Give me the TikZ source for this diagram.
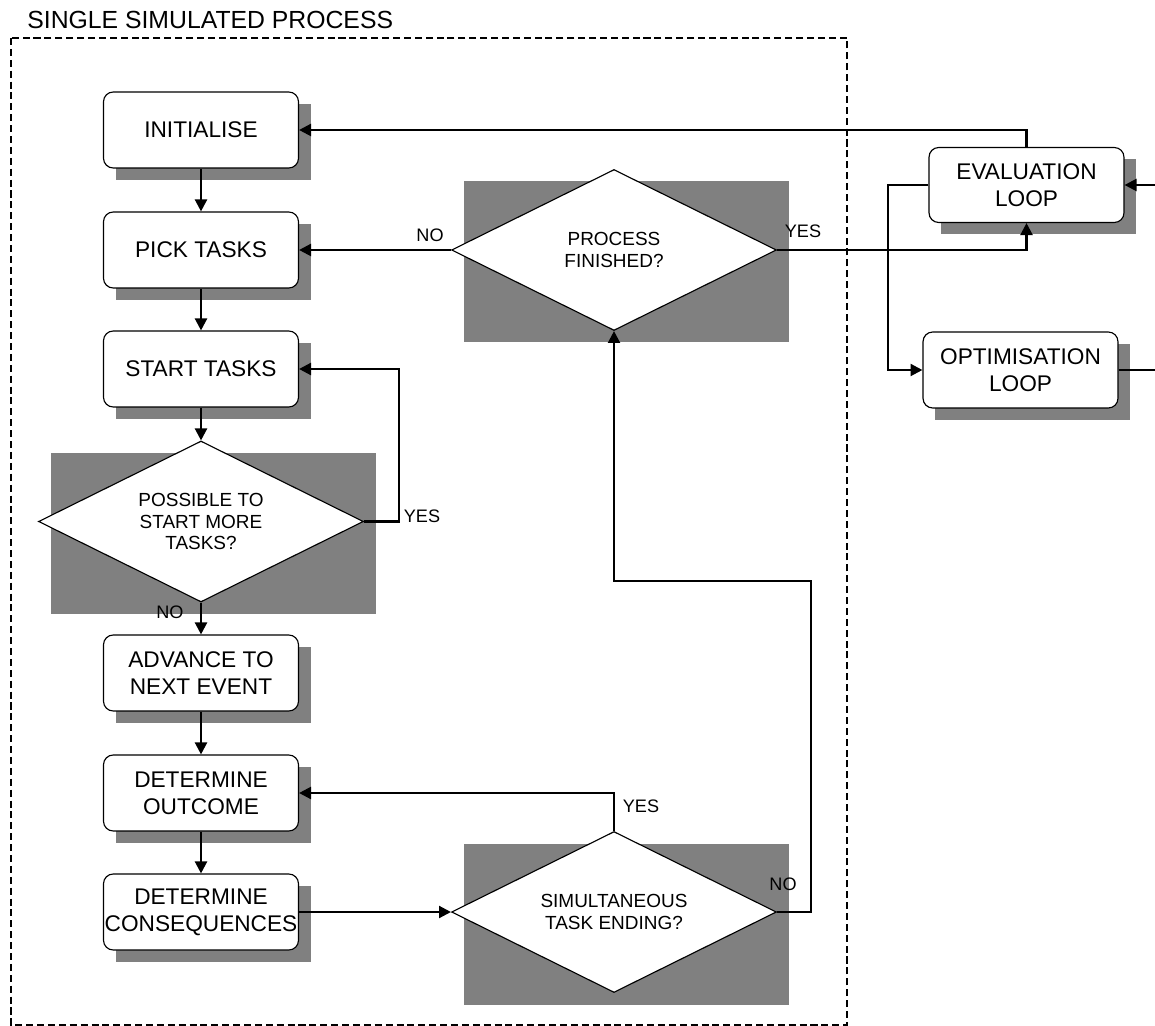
\documentclass[tikz,border=0pt]{standalone}
\usepackage{fontspec}
\setmainfont{Liberation Sans}
\usetikzlibrary{arrows.meta,shapes.geometric}
\colorlet{shadowgray}{black!50}
\def\boxshadow(#1,#2)(#3,#4){\fill[shadowgray] ({#1-#3/2+12},{#2-#4/2+12}) rectangle ({#1+#3/2+12},{#2+#4/2+12});}
\tikzset{
	taskbox/.style={draw, line width=0.65pt, fill=white, rounded corners=5.5pt, minimum width=3.9cm, minimum height=1.52cm, inner sep=0pt, align=center, font=\fontsize{12.9}{15.2}\selectfont},
	testbox/.style={draw, diamond, shape aspect=2, line width=0.65pt, fill=white, minimum width=6.5cm, minimum height=3.22cm, inner sep=0pt, align=center, font=\fontsize{10.8}{12.3}\selectfont},
	answer/.style={inner sep=0pt, font=\fontsize{10.3}{12}\selectfont},
	flow/.style={line width=1.3pt, -{Triangle[length=6.8pt,width=6.8pt]}},
	flowline/.style={line width=1.3pt}
}

\begin{document}
\begin{tikzpicture}[x=0.02cm, y=-0.02cm]
			%%%%% START %%%%%
			\useasboundingbox (0, 0) rectangle (1155, 1026);
			
			\draw[line width=1pt, dash pattern=on 4pt off 2.2pt] (11, 38) rectangle (847, 1025);
			\node[anchor=base west, inner sep=0pt, font=\fontsize{14.1}{16}\selectfont] (title) at (27, 29) {SINGLE SIMULATED PROCESS};
			
			\boxshadow(201, 130)(195, 76)
			\boxshadow(201, 250)(195, 76)
			\boxshadow(201, 369)(195, 76)
			\boxshadow(201, 521.5)(325, 161)
			\boxshadow(201, 673)(195, 76)
			\boxshadow(201, 793)(195, 76)
			\boxshadow(201, 912)(195, 76)
			\boxshadow(614, 250)(325, 161)
			\boxshadow(614, 912)(325, 161)
			\boxshadow(1026.5, 185)(195, 75)
			\boxshadow(1020.5, 370)(195, 76)
			
			\node[taskbox] (init) at (201, 130) {INITIALISE};
			\node[taskbox] (pick) at (201, 250) {PICK TASKS};
			\node[taskbox] (start) at (201, 369) {START TASKS};
			\node[testbox] (possible) at (201, 521.5) {POSSIBLE TO\\START MORE\\TASKS?};
			\node[taskbox] (advance) at (201, 673) {ADVANCE TO\\NEXT EVENT};
			\node[taskbox] (outcome) at (201, 793) {DETERMINE\\OUTCOME};
			\node[taskbox] (conseq) at (201, 912) {DETERMINE\\CONSEQUENCES};
			\node[testbox] (procfin) at (614, 250) {PROCESS\\FINISHED?};
			\node[testbox] (simul) at (614, 912) {SIMULTANEOUS\\TASK ENDING?};
			\node[taskbox, minimum height=1.5cm] (eval) at (1026.5, 185) {EVALUATION\\LOOP};
			\node[taskbox] (optim) at (1020.5, 370) {OPTIMISATION\\LOOP};
			
			\coordinate (backup) at (811, 581);
			\coordinate (branch) at (888, 185);
			\coordinate (evalin) at (1156, 185);
			\coordinate (optout) at (1156, 370);
			
			\draw[flow] (init) -- (pick);
			\draw[flow] (pick) -- (start);
			\draw[flow] (start) -- (possible);
			\draw[flow] (possible) -- (advance);
			\draw[flow] (advance) -- (outcome);
			\draw[flow] (outcome) -- (conseq);
			\draw[flow] (conseq) -- (simul);
			\draw[flow] (possible.east) -- ++(35, 0) |- (start.east);
			\draw[flow] (simul.north) |- (outcome.east);
			\draw[flow] (simul.east) -| (backup) -| (procfin.south);
			\draw[flow] (procfin.west) -- (pick.east);
			\draw[flow] (procfin.east) -| (eval.south);
			\draw[flow] (eval.north) |- (init.east);
			\draw[flow] (eval.west) -- (branch) |- (optim.west);
			\draw[flow] (evalin) -- (eval.east);
			\draw[flowline] (optim.east) -- (optout);
			
			\node[answer] (no1) at (170, 612) {NO};
			\node[answer] (yes1) at (422, 516) {YES};
			\node[answer] (no2) at (430, 235) {NO};
			\node[answer] (yes2) at (803, 231) {YES};
			\node[answer] (yes3) at (641, 806) {YES};
			\node[answer] (no3) at (783, 884) {NO};
			
			%%%%% END %%%%%
\end{tikzpicture}
\end{document}
